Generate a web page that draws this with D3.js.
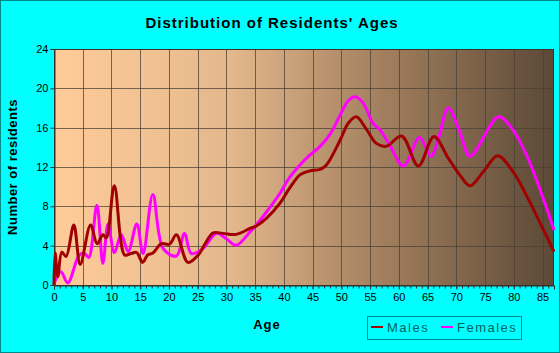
<!DOCTYPE html>
<meta charset="utf-8">
<style>
    body { margin: 0; background: #00ffff; }
    svg { display: block; font-family: Arial, "Liberation Sans", sans-serif; }
    .tick text { font-size: 11px; fill: #000; }
</style>
<body>
<script src="https://d3js.org/d3.v7.min.js"></script>
<script>
// ages (x positions) and resident counts
let maleAges = [0, 0.2, 0.66, 1.36, 2.1, 3.45, 4.56, 6.36, 7.5, 8.5, 9.1, 10.5, 12.3, 13.4, 14.4, 15.4, 16.3, 17.2, 18.7, 20.1, 21.3, 23.3, 25.3, 26.2, 27.7, 29.4, 31.7, 34.1, 35.2, 37, 39.3, 41, 42.8, 44.5, 46.3, 47.4, 49.8, 51.2, 52.6, 54.4, 56.1, 57.8, 60.5, 63.4, 66.1, 68.6, 70.6, 72.4, 74.8, 77.2, 79.9, 82.3, 84.6, 87];
let males = [0, 3.25, 0.85, 3.35, 2.9, 6.1, 2.1, 6.1, 4.2, 5.1, 4.8, 10.1, 3.05, 3.2, 3.3, 2.3, 3.05, 3.25, 4.2, 4.15, 5.1, 2.3, 3.2, 4.1, 5.3, 5.25, 5.15, 5.75, 6.0, 6.8, 8.3, 9.85, 11.2, 11.6, 11.75, 12.2, 14.75, 16.45, 17.1, 15.8, 14.4, 14.1, 15.15, 12.1, 15.1, 12.9, 11.2, 10.1, 11.6, 13.15, 11.5, 9.0, 6.3, 3.4];

let femaleAges = [0, 1.2, 2.4, 4.4, 5.3, 6.05, 7.46, 8.5, 9.4, 10.5, 11.7, 12.9, 14.4, 15.5, 17.2, 19, 21.3, 22.7, 23.9, 25.9, 28.3, 30, 31.7, 34.1, 35.2, 37, 39.3, 40.7, 42.8, 44.5, 46.3, 48.1, 49.8, 51.2, 52.4, 53.8, 55.5, 56.7, 58.4, 60.8, 63.6, 65.6, 66.9, 68.6, 70.6, 72.4, 77.3, 79.7, 82.3, 84.6, 87];
let females = [0.1, 1.35, 0.2, 3.05, 3.2, 2.8, 8.1, 2.2, 6.2, 3.3, 5.1, 3.4, 6.2, 3.2, 9.2, 3.7, 2.95, 5.25, 3.2, 3.7, 5.25, 4.7, 4.05, 5.4, 6.1, 7.45, 9.3, 10.7, 12.2, 13.2, 14.1, 15.4, 17.3, 18.75, 19.15, 18.5, 16.45, 15.8, 14.25, 12.1, 15.0, 13.1, 14.9, 18.0, 15.6, 13.1, 17.1, 15.9, 13.1, 9.65, 5.6];

let xTicks = d3.range(0, 90, 5);
let yTicks = [0, 4, 8, 12, 16, 20, 24];

let width = 560;
let height = 353;
let plot = {left: 54, right: 554, top: 49, bottom: 285};

let svg = d3.select("body").append("svg")
    .attr("width", width)
    .attr("height", height);

// outer border
svg.append("rect")
    .attr("x", 0.5).attr("y", 0.5)
    .attr("width", width - 1).attr("height", height - 1)
    .attr("fill", "#00ffff")
    .attr("stroke", "#008b8b");

let x = d3.scaleLinear().domain([0, 87]).range([plot.left, plot.right]);
let y = d3.scaleLinear().domain([0, 24]).range([plot.bottom, plot.top]);

// background gradient
let grad = svg.append("defs").append("linearGradient")
    .attr("id", "bg").attr("x1", "0%").attr("x2", "100%").attr("y1", "0%").attr("y2", "0%");
grad.append("stop").attr("offset", "0%").attr("stop-color", "#ffcc99");
grad.append("stop").attr("offset", "35%").attr("stop-color", "#e4b88c");
grad.append("stop").attr("offset", "65%").attr("stop-color", "#a3805f");
grad.append("stop").attr("offset", "100%").attr("stop-color", "#5c4937");

svg.append("rect")
    .attr("x", plot.left).attr("y", plot.top)
    .attr("width", plot.right - plot.left).attr("height", plot.bottom - plot.top)
    .attr("fill", "url(#bg)");

// grid
let grid = svg.append("g").attr("stroke", "#4a4036").attr("stroke-opacity", 0.75).attr("stroke-width", 1);
grid.selectAll("line.v").data(xTicks.slice(1))
    .join("line").attr("class", "v")
    .attr("x1", d => Math.round(x(d)) + 0.5).attr("x2", d => Math.round(x(d)) + 0.5)
    .attr("y1", plot.top).attr("y2", plot.bottom);
grid.selectAll("line.h").data(yTicks.slice(1))
    .join("line").attr("class", "h")
    .attr("y1", d => Math.round(y(d)) + 0.5).attr("y2", d => Math.round(y(d)) + 0.5)
    .attr("x1", plot.left).attr("x2", plot.right);

// plot frame
svg.append("rect")
    .attr("x", plot.left + 0.5).attr("y", plot.top + 0.5)
    .attr("width", plot.right - plot.left - 1).attr("height", plot.bottom - plot.top)
    .attr("fill", "none").attr("stroke", "#3a332c");

// axes
svg.append("g")
    .attr("transform", "translate(0," + (plot.bottom + 0.5) + ")")
    .call(d3.axisBottom(x).tickValues(xTicks).tickSize(4).tickPadding(4));
svg.append("g")
    .attr("transform", "translate(0," + (plot.bottom + 0.5) + ")")
    .call(d3.axisBottom(x).tickValues(d3.range(0, 88, 1)).tickSize(3).tickFormat(""))
    .select(".domain").remove();
svg.append("g")
    .attr("transform", "translate(" + (plot.left + 0.5) + ",0)")
    .call(d3.axisLeft(y).tickValues(yTicks).tickSize(4).tickPadding(2));
svg.selectAll(".domain").attr("stroke", "#333");
svg.selectAll(".tick line").attr("stroke", "#333");

// lines
let line = d3.line()
    .x(d => x(d[0]))
    .y(d => y(d[1]))
    .curve(d3.curveCatmullRom.alpha(0.5));

svg.append("path")
    .datum(femaleAges.map((a, i) => [a, females[i]]))
    .attr("d", line)
    .attr("fill", "none")
    .attr("stroke", "#ff00ff")
    .attr("stroke-width", 3);

svg.append("path")
    .datum(maleAges.map((a, i) => [a, males[i]]))
    .attr("d", line)
    .attr("fill", "none")
    .attr("stroke", "#a00000")
    .attr("stroke-width", 3);

// titles
svg.append("text")
    .attr("x", 272).attr("y", 28)
    .attr("text-anchor", "middle")
    .style("font-size", "15px").style("font-weight", "bold").style("letter-spacing", "1px")
    .text("Distribution of Residents' Ages");

svg.append("text")
    .attr("transform", "translate(17,167) rotate(-90)")
    .attr("text-anchor", "middle")
    .style("font-size", "13px").style("font-weight", "bold").style("letter-spacing", "0.5px")
    .text("Number of residents");

svg.append("text")
    .attr("x", 267).attr("y", 329)
    .attr("text-anchor", "middle")
    .style("font-size", "13px").style("font-weight", "bold").style("letter-spacing", "1px")
    .text("Age");

// legend
let legend = svg.append("g");
legend.append("rect")
    .attr("x", 367.5).attr("y", 316.5).attr("width", 154).attr("height", 23)
    .attr("fill", "none").attr("stroke", "#008b8b");
let items = [{name: "Males", color: "#a00000", x: 371}, {name: "Females", color: "#ff00ff", x: 441}];
items.forEach(function(d) {
    legend.append("line")
        .attr("x1", d.x).attr("x2", d.x + 12).attr("y1", 327).attr("y2", 327)
        .attr("stroke", d.color).attr("stroke-width", 2);
    legend.append("text")
        .attr("x", d.x + 16).attr("y", 332)
        .style("font-size", "13px").style("letter-spacing", "1.5px").style("fill", "#005f5f")
        .text(d.name);
});
</script>
</body>
